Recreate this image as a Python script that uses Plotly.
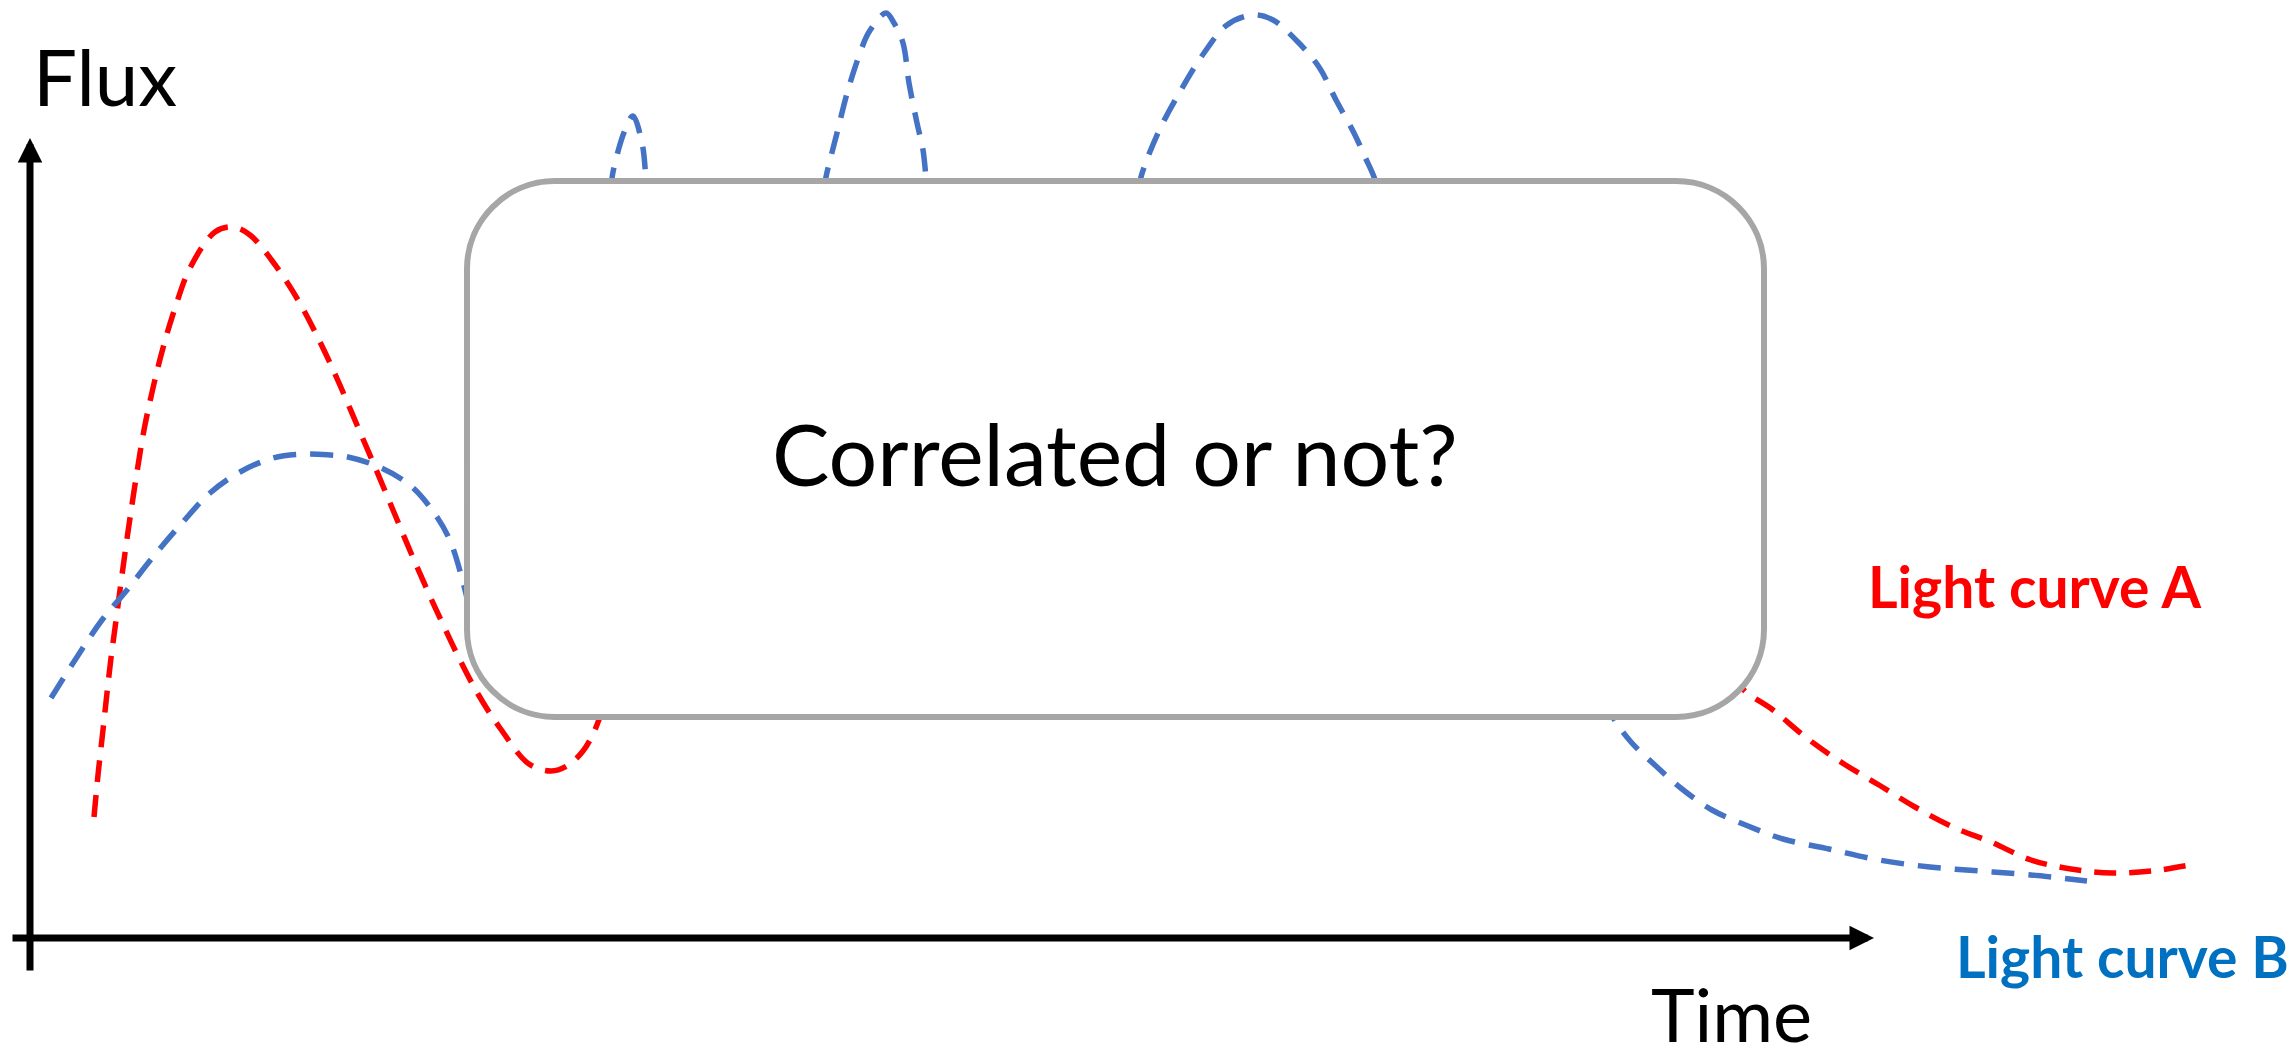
import plotly.graph_objects as go

# Light curve A (red). Only the visible pieces are given; None = hidden behind the box.
a_time = [64, 68, 73, 77, 81, 85, 90, 95, 100, 107, 114, 123, 133, 145, 160, 185, 203,
          220, 243, 268, 291, 309, 327, 345, 363, 381, 399, 410, 428, 448, 470, 499, 521,
          537, 553, 564, 574,
          None,
          1705, 1713, 1743, 1778, 1814, 1849, 1885, 1925, 1961, 2001, 2041, 2082, 2122, 2160]
a_flux = [121, 163, 208, 245, 280, 310, 348, 385, 420, 466, 508, 550, 590, 630, 670, 706, 711,
          703, 676, 638, 594, 555, 513, 471, 428, 385, 344, 320, 282, 244, 210, 174, 167,
          172, 187, 206, 233,
          None,
          266, 249, 228, 199, 174, 153, 131, 110, 96, 78, 69, 65, 67, 73]

# Light curve B (blue)
b_time = [21, 47, 72, 97, 123, 152, 180, 210, 243, 273, 300, 318, 349, 381, 407, 421, 434, 442,
          None,
          581, 583, 595, 603, 612, 615, 616,
          None,
          794, 796, 807, 818, 830, 839, 856, 864, 873, 879, 887, 893, 896, 898,
          None,
          1109, 1111, 1128, 1151, 1174, 1197, 1223, 1243, 1266, 1289, 1306, 1324, 1335, 1344, 1348,
          None,
          1575, 1584, 1601, 1627, 1652, 1682, 1718, 1753, 1799, 1849, 1900, 1950, 2001, 2057]
b_flux = [240, 281, 318, 348, 381, 415, 445, 466, 480, 484, 483, 481, 471, 452, 421, 395, 352, 318,
          None,
          748, 766, 808, 822, 795, 771, 748,
          None,
          748, 761, 805, 848, 885, 906, 925, 915, 895, 855, 815, 788, 761, 746,
          None,
          748, 761, 805, 848, 885, 913, 923, 918, 898, 871, 838, 805, 781, 761, 746,
          None,
          238, 219, 196, 171, 149, 128, 112, 99, 89, 78, 71, 67, 63, 57]

RED = "#FF0000"
BLUE = "#4472C4"
LABEL_BLUE = "#0070C0"
GREY = "#A6A6A6"
FONT = "Lato"

fig = go.Figure()
fig.add_trace(go.Scatter(x=a_time, y=a_flux, mode="lines", connectgaps=False,
                         line=dict(color=RED, width=5.5, dash="22px,13px", shape="spline")))
fig.add_trace(go.Scatter(x=b_time, y=b_flux, mode="lines", connectgaps=False,
                         line=dict(color=BLUE, width=5.5, dash="23px,14px", shape="spline")))

# rounded box covering the middle of the curves
x0, x1, bot, top, r = 437, 1734, 221, 757, 88
k = 0.5523 * r
box = (f"M {x0 + r},{top} L {x1 - r},{top} "
       f"C {x1 - r + k},{top} {x1},{top - r + k} {x1},{top - r} "
       f"L {x1},{bot + r} "
       f"C {x1},{bot + r - k} {x1 - r + k},{bot} {x1 - r},{bot} "
       f"L {x0 + r},{bot} "
       f"C {x0 + r - k},{bot} {x0},{bot + r - k} {x0},{bot + r} "
       f"L {x0},{top - r} "
       f"C {x0},{top - r + k} {x0 + r - k},{top} {x0 + r},{top} Z")
fig.add_shape(type="path", path=box, xref="x", yref="y", layer="above",
              fillcolor="white", line=dict(color=GREY, width=6))

# axis arrows
arrow = dict(xref="x", yref="y", axref="x", ayref="y", text="", showarrow=True,
             arrowhead=2, arrowsize=0.7, arrowwidth=7, arrowcolor="black")
fig.add_annotation(x=1844, y=0, ax=-19, ay=0, **arrow)
fig.add_annotation(x=0, y=800, ax=0, ay=-34, **arrow)

texts = [
    ("Flux", 1, 862, "left", 78, "black", False),
    ("Time", 1619, -75, "left", 74, "black", False),
    ("Correlated or not?", 1085, 486, "center", 86, "black", False),
    ("Light curve A", 1836, 352, "left", 57, RED, True),
    ("Light curve B", 1924, -18, "left", 57, LABEL_BLUE, True),
]
for txt, tx, ty, anchor, size, color, bold in texts:
    fig.add_annotation(x=tx, y=ty, xref="x", yref="y", showarrow=False,
                       text=f"<b>{txt}</b>" if bold else txt,
                       xanchor=anchor, yanchor="middle",
                       font=dict(family=FONT, size=size, color=color))

fig.update_layout(
    width=2293, height=1059,
    margin=dict(l=0, r=0, t=0, b=0),
    paper_bgcolor="white", plot_bgcolor="white",
    showlegend=False,
    xaxis=dict(visible=False, range=[-30, 2263], fixedrange=True),
    yaxis=dict(visible=False, range=[-121, 938], fixedrange=True),
)

# drop the default page margin so the figure fills the window exactly
fig.write_html("out.html", config={"displayModeBar": False},
               post_script="document.body.style.margin = '0';")
